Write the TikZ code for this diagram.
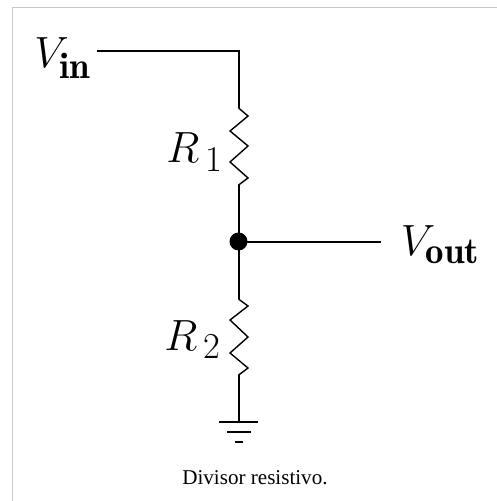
\documentclass[tikz,border=0pt]{standalone}
\usepackage{amsmath}
\usepackage{fontspec}
\usepackage{tikz}
\newfontfamily\captionfont{Liberation Serif}
\definecolor{framegray}{RGB}{200,200,200}
\DeclareMathSizes{32}{32}{21}{15}
\tikzset{wire/.style={black,line width=1.1pt},
  zigzag/.style={black,line width=0.8pt,line join=miter},
  label/.style={anchor=base west,font=\fontsize{32}{32}\selectfont}}

\begin{document}
\begin{tikzpicture}[scale=0.02]
\tikzstyle{every node}+=[inner sep=0pt]
\useasboundingbox (0,0) rectangle (497,-501);
\draw [framegray,line width=0.8pt] (12.5,-501) -- (12.5,-7.5) -- (497,-7.5);
\coordinate (inend) at (96.5,-51);
\coordinate (corner) at (238.5,-51);
\coordinate (r1top) at (238.5,-108);
\coordinate (r1bot) at (238.5,-185);
\coordinate (outend) at (381,-241.5);
\coordinate (r2top) at (238.5,-299);
\coordinate (r2bot) at (238.5,-375);
\coordinate (gnd) at (238.5,-421.7);
\node (vin) [label] at (34,-68) {$V_{\mathbf{in}}$};
\node (rone) [label] at (166,-163) {$R_{\,1}$};
\node (vout) [label] at (400.5,-255) {$V_{\mathbf{out}}$};
\node (rtwo) [label] at (164,-350) {$R_{\,2}$};
\fill [black] (238.5,-241.5) circle (9);
\coordinate (mid) at (238.5,-241.5);
\draw [wire] (inend) -- (corner) -- (r1top);
\draw [zigzag] (r1top) -- (248,-116) -- (230,-131) -- (248,-146) -- (230,-162) -- (248,-178) -- (r1bot);
\draw [wire] (r1bot) -- (mid);
\draw [wire] (mid) -- (outend);
\draw [wire] (mid) -- (r2top);
\draw [zigzag] (r2top) -- (248,-306) -- (230,-320) -- (248,-337) -- (230,-353) -- (248,-368) -- (r2bot);
\draw [wire] (r2bot) -- (gnd);
\draw [wire] (219,-421.7) -- (258,-421.7);
\draw [wire] (227,-431.7) -- (250.5,-431.7);
\draw [wire] (235,-441.7) -- (242.7,-441.7);
\node (caption) [anchor=base west] at (182,-484) {\fontsize{12}{14}\captionfont Divisor resistivo.};
\end{tikzpicture}
\end{document}
